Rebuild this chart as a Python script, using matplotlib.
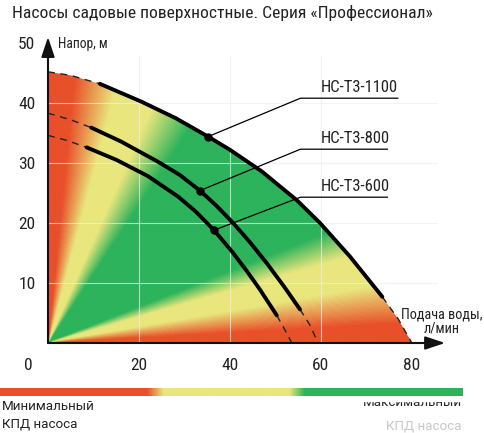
import numpy as np
import matplotlib
matplotlib.use('Agg')
import matplotlib.pyplot as plt
from matplotlib import font_manager
from matplotlib.colors import LinearSegmentedColormap
from matplotlib.patches import Polygon, Rectangle

# chart texts
title = 'Насосы садовые поверхностные. Серия «Профессионал»'
y_label = 'Напор, м'
x_label = 'Подача воды,\nл/мин'
x_ticks = [20, 40, 60, 80]
y_ticks = [10, 20, 30, 40, 50]

# pump curves (flow l/min, head m)
q_1100 = [0, 5, 11.4, 20.6, 28, 35.2, 40, 47, 54.7, 59.8, 66.4, 70, 73.5, 77, 80]
h_1100 = [45.2, 44.6, 43.2, 40.2, 37.5, 34.4, 32.2, 28.6, 23.8, 20.0, 14.4, 11.0, 7.7, 4.0, 0]
q_800 = [0, 5, 9.5, 16, 24.2, 29, 33.4, 37, 40.7, 44.5, 48.1, 52, 55.4, 57.5, 59.4]
h_800 = [38.3, 37.2, 35.9, 33.6, 30.2, 28.0, 25.4, 22.9, 20.0, 16.7, 13.3, 9.3, 5.6, 3.1, 0]
q_600 = [0, 4, 8.5, 15.1, 22, 28.6, 32.5, 36.5, 40.5, 43.8, 46.6, 50.3, 52, 53.6]
h_600 = [34.6, 33.8, 32.6, 30.5, 27.8, 24.4, 21.9, 18.8, 15.2, 11.9, 8.9, 4.6, 2.3, 0]

pump_names = ['НС-Т3-1100', 'НС-Т3-800', 'НС-Т3-600']
solid_from = [2, 2, 2]      # index where the working (solid) part begins
solid_to = [12, 12, 11]     # index where it ends
marker_q = [35.2, 33.4, 36.5]
marker_h = [34.4, 25.4, 18.8]

# efficiency bands by angle from origin (deg)
eff_angles = [0, 4, 13, 21, 28, 64, 72, 79, 86, 90]
RED, YEL, GRN = '#e8502a', '#e9e67d', '#2db35b'
eff_colors = [RED, RED, YEL, YEL, GRN, GRN, YEL, YEL, RED, RED]

# legend bar stops
bar_stops = [0, 0.318, 0.352, 0.626, 0.659, 1]
bar_colors = [RED, RED, YEL, YEL, GRN, GRN]

# pick a condensed face if there is one
have = {f.name for f in font_manager.fontManager.ttflist}
narrow_name = 'Liberation Sans'
ns = 0.86
for cand in ['Roboto Condensed', 'Liberation Sans Narrow', 'Noto Sans Condensed',
             'Open Sans Condensed', 'DejaVu Sans Condensed']:
    if cand in have:
        narrow_name = cand
        ns = 1.0
        break
narrow = [narrow_name, 'DejaVu Sans']
plain = ['Roboto', 'DejaVu Sans']

fig = plt.figure(figsize=(4.85, 4.33), dpi=100)
ax = fig.add_axes([48/485, 90/433, 398/485, 306/433])

# gradient background clipped by the largest pump curve
qq, hh = np.meshgrid(np.linspace(0, 80, 400), np.linspace(0, 46, 240))
ang = np.degrees(np.arctan2(hh / 45.0, qq / 80.0))
eff_cmap = LinearSegmentedColormap.from_list(
    'eff', list(zip(np.array(eff_angles) / 90.0, eff_colors)))
im = ax.imshow(ang, extent=[0, 80, 0, 46], origin='lower', cmap=eff_cmap,
               vmin=0, vmax=90, aspect='auto', interpolation='bilinear', zorder=1)
env = Polygon(np.column_stack([[0] + q_1100, [0] + h_1100]), closed=True,
              transform=ax.transData)
im.set_clip_path(env)

ax.set_xlim(0, 87.5)
ax.set_ylim(0, 51)
for s in ax.spines.values():
    s.set_visible(False)

# faint grid
ax.vlines([20, 40, 60], 0, 48, color='#eeeeee', lw=0.8, alpha=0.7, zorder=2)
ax.hlines([10, 20, 30, 40], 0, 85.5, color='#eeeeee', lw=0.8, alpha=0.7, zorder=2)

# ticks
ax.set_xticks(x_ticks)
ax.set_yticks(y_ticks)
ax.set_xticklabels([str(v) for v in x_ticks], family=narrow, fontsize=12.5 * ns, color='#222222')
ax.set_yticklabels([str(v) for v in y_ticks], family=narrow, fontsize=12.5 * ns, color='#222222')
ax.tick_params(axis='x', length=0, pad=11)
ax.tick_params(axis='y', length=0, pad=9)
ax.text(-4.4, -3.8, '0', ha='center', va='center', family=narrow, fontsize=12.5 * ns,
        color='#222222', clip_on=False)

# axis arrows
arr = dict(arrowstyle='-|>,head_length=0.6,head_width=0.2', lw=1.5, color='#111111',
           mutation_scale=20, shrinkA=0, shrinkB=0)
ax.annotate('', xy=(87.3, 0), xytext=(0, 0), arrowprops=arr, annotation_clip=False, zorder=6)
ax.annotate('', xy=(0, 51), xytext=(0, 0), arrowprops=arr, annotation_clip=False, zorder=6)

ax.text(2.2, 49.8, y_label, ha='left', va='center', family=narrow, fontsize=9.8 * ns,
        color='#222222')
ax.text(95.5, 3.6, x_label, ha='right', va='center', multialignment='center',
        family=narrow, fontsize=10.3 * ns, color='#222222', linespacing=0.95, clip_on=False)

# pump curves
curves = [(q_1100, h_1100), (q_800, h_800), (q_600, h_600)]
label_h = [40.8, 32.3, 24.3]
line_end = [76.9, 74.6, 74.6]
for i, (q, h) in enumerate(curves):
    a, b = solid_from[i], solid_to[i]
    ax.plot(q[:a + 1], h[:a + 1], color='#222222', lw=1.0, ls=(0, (5, 4)), zorder=3)
    ax.plot(q[b:], h[b:], color='#222222', lw=1.0, ls=(0, (5, 4)), zorder=3)
    ax.plot(q[a:b + 1], h[a:b + 1], color='black', lw=2.8, solid_capstyle='round',
            solid_joinstyle='round', zorder=4)
    ax.plot(marker_q[i], marker_h[i], 'o', ms=5, color='black', zorder=5)
    ax.plot([marker_q[i], 55.5, line_end[i]], [marker_h[i], label_h[i], label_h[i]],
            color='black', lw=0.9, zorder=5)
    ax.text(60, label_h[i] + 1.0, pump_names[i], ha='left', va='baseline',
            family=narrow, fontsize=12 * ns, color='#222222')

# title
fig.text(12/485, 1 - 5/433, title, ha='left', va='top', family=narrow, fontsize=12.6 * ns,
         color='#222222')

# efficiency legend bar
cax = fig.add_axes([0, 37/433, 463/485, 8/433])
bar_cmap = LinearSegmentedColormap.from_list('bar', list(zip(bar_stops, bar_colors)))
cax.imshow(np.linspace(0, 1, 500)[None, :], aspect='auto', cmap=bar_cmap,
           extent=[0, 1, 0, 1])
cax.axis('off')

fig.text(2/485, 1 - 400/433, 'Минимальный', ha='left', va='top', family=plain,
         fontsize=9.6, color='#222222')
fig.text(2/485, 1 - 418/433, 'КПД насоса', ha='left', va='top', family=plain,
         fontsize=9.6, color='#222222')
fig.text(462/485, 1 - 396/433, 'Максимальный', ha='right', va='top', family=plain,
         fontsize=9.6, color='#222222')
fig.text(462/485, 1/433, 'КПД насоса', ha='right', va='bottom', family=plain,
         fontsize=9.6, color='#c8c8c8')
fig.patches.append(Rectangle((330/485, (433 - 401)/433), 150/485, 4.5/433,
                             transform=fig.transFigure, color='white', zorder=10))

fig.savefig('out.png', dpi=100)
